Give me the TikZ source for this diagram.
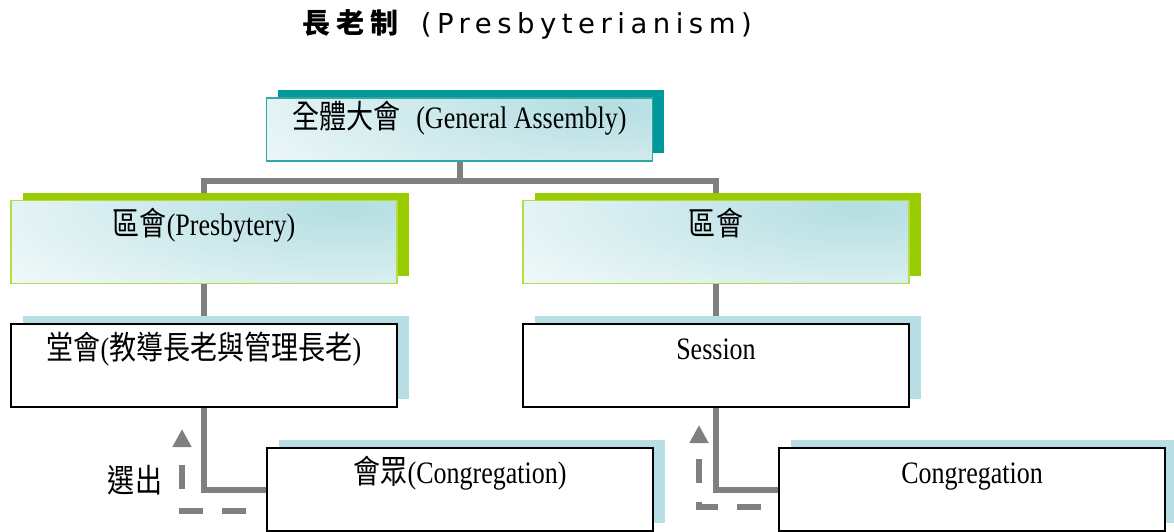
\documentclass[tikz,border=0pt]{standalone}
\usepackage{fontspec}
\usepackage{graphicx}
\setmainfont{Liberation Serif}
\newfontfamily\cjk[Scale=1.04]{Noto Sans CJK TC}
\newfontfamily\titlefont[LetterSpace=20]{DejaVu Sans}
\newfontfamily\titlecjk[LetterSpace=23]{Noto Sans CJK TC}
\usetikzlibrary{arrows.meta,shadows,backgrounds}
\definecolor{gaShadow}{HTML}{009999}
\definecolor{gaBorder}{HTML}{33A6A6}
\definecolor{prShadow}{HTML}{99CC00}
\definecolor{prBorder}{HTML}{B5DB45}
\definecolor{seShadow}{HTML}{B7DEE2}
\definecolor{boxTint}{HTML}{B4DEE2}
\definecolor{connGray}{HTML}{808080}
\newcommand\tallt[1]{\scalebox{1}[1.2]{#1}}

\begin{document}
\begin{tikzpicture}[x=1pt, y=-1pt, font=\fontsize{26}{30}\selectfont,
        every node/.style={inner sep=0pt, outer sep=0pt},
        orgbox/.style={minimum width=386pt, text height=35pt, text depth=48pt, line width=1.5pt},
        tintbox/.style={orgbox, fill=white, path picture={
            \shade[inner color=boxTint, outer color=white]
                ([xshift=-50pt, yshift=-8pt]path picture bounding box.north east) ellipse (520pt and 150pt);}},
        gabox/.style={tintbox, draw=gaBorder, text height=30pt, text depth=33pt,
            drop shadow={opacity=1, fill=gaShadow, shadow xshift=11.5pt, shadow yshift=8pt}},
        prbox/.style={tintbox, draw=prBorder,
            drop shadow={opacity=1, fill=prShadow, shadow xshift=11.5pt, shadow yshift=8pt}},
        sebox/.style={orgbox, draw=black, fill=white,
            drop shadow={opacity=1, fill=seShadow, shadow xshift=11.5pt, shadow yshift=8pt}},
        conn/.style={draw=connGray, line width=6pt},
        pickarrow/.style={draw=connGray, line width=6pt, dash pattern=on 24pt off 19pt,
            -{Triangle[width=18pt,length=18pt]}}]
        \useasboundingbox (0,0) rectangle (1174,531);
        \node[font=\fontsize{28}{32}\selectfont, anchor=base west] (title) at (302,33)
            {{\titlecjk\bfseries 長老制}\hspace{22pt}{\fontsize{27.5}{32}\titlefont (Presbyterianism)}};
        \node[gabox] (ga) at (459.5,129.5) {\tallt{{\cjk 全體大會}\hspace{0.6em}(General Assembly)}};
        \node[prbox] (pl) at (204,242) {\tallt{{\cjk 區會}(Presbytery)}};
        \node[prbox] (pr) at (716,242) {\tallt{\cjk 區會}};
        \node[sebox] (sl) at (204,365.5) {\tallt{{\cjk 堂會}({\cjk 教導長老與管理長老})}};
        \node[sebox] (sr) at (716,365.5) {\tallt{Session}};
        \node[sebox] (cl) at (460,489.5) {\tallt{{\cjk 會眾}(Congregation)}};
        \node[sebox] (cr) at (972,489.5) {\tallt{Congregation}};
        \node (pick) at (135,480) {\tallt{\cjk 選出}};
        \begin{scope}[on background layer]
            \coordinate (bus) at (459.5,180.5);
            \draw[conn] (ga.south) -- (bus);
            \draw[conn] (bus) -| (pl.north);
            \draw[conn] (bus) -| (pr.north);
            \draw[conn] (pl.south) -- (sl.north);
            \draw[conn] (pr.south) -- (sr.north);
            \draw[conn] (sl.south) |- (cl.west);
            \draw[conn] (sr.south) |- (cr.west);
        \end{scope}
        \draw[pickarrow] ([shift={(-21,21.5)}]cl.west) -| ([shift={(-22,22)}]sl.south);
        \draw[pickarrow] ([shift={(-18,17.5)}]cr.west) -| ([shift={(-17,18)}]sr.south);
    \end{tikzpicture}
\end{document}
